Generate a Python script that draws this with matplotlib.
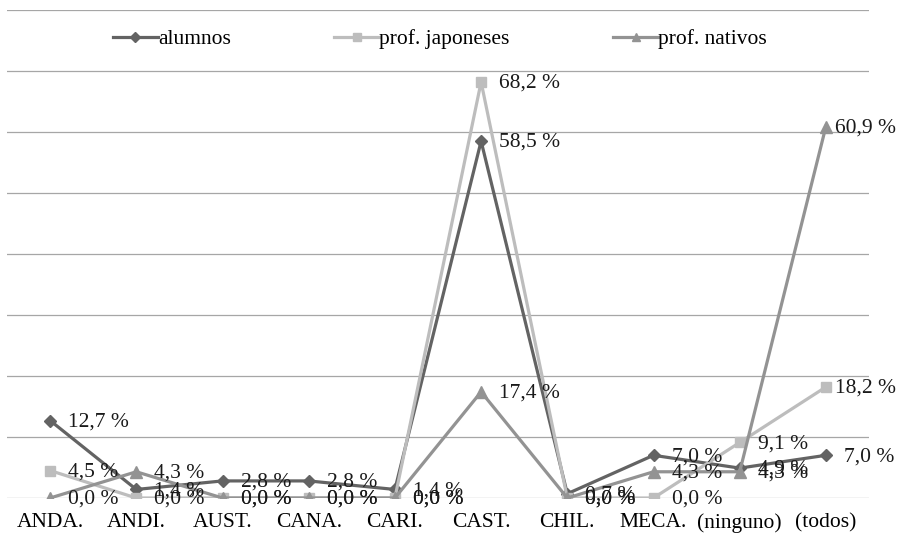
import matplotlib
matplotlib.use("Agg")
import matplotlib.pyplot as plt

categories = ["ANDA.", "ANDI.", "AUST.", "CANA.", "CARI.", "CAST.", "CHIL.", "MECA.", "(ninguno)", "(todos)"]
alumnos = [12.7, 1.4, 2.8, 2.8, 1.4, 58.5, 0.7, 7.0, 4.9, 7.0]
prof_japoneses = [4.5, 0.0, 0.0, 0.0, 0.0, 68.2, 0.0, 0.0, 9.1, 18.2]
prof_nativos = [0.0, 4.3, 0.0, 0.0, 0.0, 17.4, 0.0, 4.3, 4.3, 60.9]

series = [
    ("alumnos", alumnos, "#636363", "D", 6),
    ("prof. japoneses", prof_japoneses, "#bdbdbd", "s", 7),
    ("prof. nativos", prof_nativos, "#939393", "^", 8),
]

plt.rcParams["font.family"] = ["Liberation Serif", "DejaVu Serif"]

fig = plt.figure(figsize=(8.99, 5.37), dpi=100)
ax = fig.add_axes([7 / 899, 39 / 537, 862 / 899, 488 / 537])

x = list(range(len(categories)))
labels = []
for name, vals, color, marker, ms in series:
    ax.plot(x, vals, color=color, lw=2.3, marker=marker, markersize=ms,
            markeredgecolor=color, label=name, zorder=3)
    for xi, v in zip(x, vals):
        t = ax.annotate(f"{v:.1f} %".replace(".", ","), (xi, v), xytext=(13, -1),
                        textcoords="offset points", ha="left", va="center",
                        fontsize=15.5, color="#1a1a1a", zorder=4)
        labels.append(t)

ax.set_xlim(-0.5, len(categories) - 0.5)
ax.set_ylim(0, 80)
ax.set_yticks(range(0, 81, 10))
ax.yaxis.grid(True, color="#a6a6a6", lw=0.9)
ax.set_axisbelow(True)
ax.tick_params(axis="y", left=False, labelleft=False)
ax.set_xticks(x)
ax.set_xticklabels(categories, fontsize=15.5)
ax.tick_params(axis="x", length=0, pad=11)
for s in ax.spines.values():
    s.set_visible(False)

ax.legend(loc="center", bbox_to_anchor=(0.502, 0.94), ncol=3, frameon=False,
          fontsize=15.5, handlelength=2.1, columnspacing=4.8,
          handletextpad=0.0, markerscale=0.8)

# keep data labels inside the right edge of the figure
fig.canvas.draw()
renderer = fig.canvas.get_renderer()
limit = fig.bbox.width - 3
for t in labels:
    bb = t.get_window_extent(renderer)
    if bb.x1 > limit:
        dx_pts = (bb.x1 - limit) * 72 / fig.dpi
        ox, oy = t.xyann
        t.xyann = (ox - dx_pts, oy)

fig.savefig("out.png", dpi=100)
